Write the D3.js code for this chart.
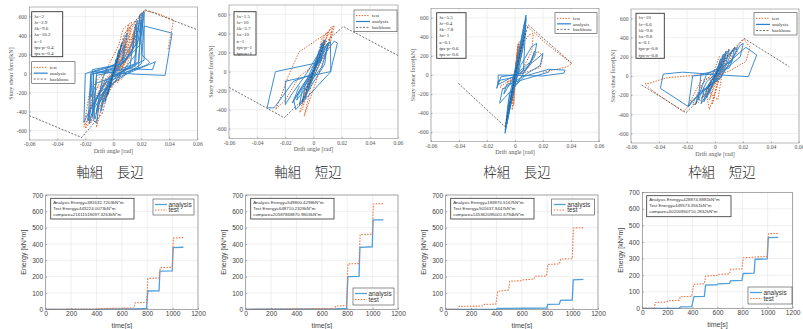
<!DOCTYPE html>
<html><head><meta charset="utf-8">
<script src="https://cdn.jsdelivr.net/npm/d3@7"></script>
<style>body{margin:0;background:#fff}svg{display:block}</style>
</head><body>
<script>
// ---------- tick labels ----------
const driftTicks = [-0.06,-0.04,-0.02,0,0.02,0.04,0.06];
const forceTicks = [-600,-400,-200,0,200,400,600];
const timeTicks = [0,200,400,600,800,1000,1200];
const energyTicks = [0,100,200,300,400,500,600,700];
const titles = ["軸組　長辺","軸組　短辺","枠組　長辺","枠組　短辺"];

// ---------- parameter boxes ----------
const params1 = ["λs=2","λr=2.9","λk=9.6","λa=10.2","κ=1","fps-p=0.4","fps-n=0.4"];
const params2 = ["λs=1.5","λr=10","λk=3.7","λa=10","κ=1","fps-p=1","fps-n=1"];
const params3 = ["λs=5.5","λr=0.4","λk=7.8","λa=1","κ=0.1","fps-p=0.6","fps-n=0.6"];
const params4 = ["λs=10","λr=6.6","λk=9.8","λa=9.8","κ=0.1","fps-p=0.8","fps-n=0.8"];

// ---------- hysteresis (drift [rad], force [kN]) ----------
const test1 = [[0,0],[0.003,150],[-0.003,-140],[0.005,250],[-0.005,-230],[0.008,350],[0.006,200],[-0.002,-50],[-0.008,-320],[-0.006,-200],[0.002,50],[0.01,420],[0.012,480],[0.009,250],[0,-20],[-0.01,-380],[-0.012,-420],[-0.009,-250],[0.003,60],[0.014,500],[0.016,560],[0.013,300],[0.004,-30],[-0.014,-450],[-0.016,-520],[-0.013,-300],[-0.002,-20],[0.01,150],[0.018,580],[0.02,640],[0.016,350],[0.008,100],[-0.008,-100],[-0.018,-540],[-0.02,-580],[-0.016,-350],[-0.006,-60],[0.004,80],[0.012,300],[0.015,450],[0.013,200],[-0.004,-100],[-0.012,-567],[-0.01,-300],[0.006,150],[0.009,400],[0.011,520],[0.008,200],[0.002,-80],[-0.015,-300],[-0.019,-500],[-0.021,-560],[-0.017,-200],[-0.01,-40],[0.005,120],[0.016,480],[0.017,400],[0.006,-60],[-0.012,-150],[-0.018,-450],[-0.015,-250],[0.004,300],[0.007,470],[0.013,540],[0.011,300],[0.003,-100],[0.022,660],[0.03,640],[0.043,565],[0.041,400],[0.039,250]];
const ana1 = [[0,0],[0.002,150],[-0.002,-150],[0.004,250],[-0.004,-230],[0.006,320],[0.004,180],[-0.006,-300],[-0.004,-150],[0.008,380],[0.01,420],[0.007,150],[-0.005,50],[-0.008,-80],[-0.012,-400],[-0.01,-250],[0,-60],[0.012,80],[0.016,520],[0.014,250],[0.004,60],[-0.014,0],[-0.015,-460],[-0.013,-300],[-0.004,-60],[0.018,120],[0.02,600],[0.021,640],[0.019,300],[0.006,100],[-0.016,10],[-0.018,-500],[-0.016,-380],[-0.006,-80],[0.022,140],[0.022,650],[0.02,400],[0.008,120],[-0.02,0],[-0.021,-515],[-0.018,-420],[-0.006,-100],[0.028,110],[0.03,125],[0.028,40],[0.01,50],[-0.012,-20],[-0.014,-350],[-0.01,-200],[0.02,100],[0.022,500],[0.042,425],[0.037,-20],[0.02,-10],[-0.014,20],[-0.015,-300],[-0.013,-480],[-0.011,-350],[0,-20],[0.016,80],[0.017,560],[0.016,300],[0.003,40],[-0.012,0],[-0.014,-500],[-0.012,-520],[-0.01,-300],[0.002,30],[0.015,100],[0.019,620],[0.018,450],[0.005,80],[-0.016,-10],[-0.017,-530],[-0.015,-400],[0,-30],[0.018,60],[0.02,560],[0.016,200],[-0.005,-200],[-0.009,-400],[-0.007,-200],[0.005,200],[0.008,300],[0.006,100],[-0.015,40],[-0.016,-250],[-0.012,-100],[0.024,90],[0.026,120],[0.02,200],[0.021,580]];
const bb1 = [[-0.06,-444],[-0.0226,-674],[-0.008,-420],[0,0],[0.008,420],[0.0227,673],[0.06,460]];

const test2 = [[0,0],[0.002,100],[-0.002,-100],[0.004,200],[-0.004,-180],[0.006,300],[0.004,150],[-0.006,-280],[-0.004,-150],[0.008,380],[0.01,420],[0.007,200],[-0.008,-350],[-0.006,-200],[0.012,460],[0.014,480],[0.01,250],[-0.0066,-467],[-0.004,-300],[0.006,350],[0.0147,484],[0.012,300],[-0.002,-100],[-0.008,-400],[-0.01,-430],[-0.006,-250],[0.004,200],[0.01,380],[0.013,420],[0.008,150],[-0.01,-50],[-0.02,-300],[-0.027,-398],[-0.024,-300],[-0.018,-50],[-0.0102,208],[0.0088,398],[0.012,440]];
const ana2 = [[0,0],[0.002,120],[-0.002,-120],[0.004,220],[-0.004,-200],[0.006,300],[0.004,150],[-0.006,-280],[-0.004,-120],[0.0076,335],[0.005,100],[-0.008,-320],[-0.006,-150],[0.01,300],[0.008,80],[-0.01,-350],[-0.008,-200],[0.012,320],[0.0123,0],[-0.0126,-398],[-0.014,-300],[-0.008,-150],[0.0147,322],[0.017,300],[0.012,0],[-0.02,-100],[-0.02,-346],[-0.016,-250],[-0.005,-20],[0.006,250],[0.008,330],[0.005,100],[-0.027,0],[-0.033,-380],[-0.028,-380],[-0.014,-100],[0,-20],[0.009,280],[0.011,310],[0.006,50],[-0.012,-300],[-0.011,-250],[0.004,120],[0.007,290],[-0.004,-60],[-0.015,-330],[-0.01,-150]];
const bb2 = [[-0.06,-165],[-0.0208,-484],[-0.008,-300],[0,0],[0.008,300],[0.0211,474],[0.06,170]];

const test3 = [[0,0],[0.001,100],[-0.001,-100],[0.0015,200],[-0.0015,-180],[0.002,280],[-0.002,-250],[0.0025,330],[-0.0025,-300],[0.001,50],[0.003,350],[-0.002,-367],[0.001,150],[-0.001,-320],[0.002,320],[-0.002,-280],[0.004,300],[0.008,380],[0.01,420],[0.013,437],[0.012,250],[0.006,80],[-0.004,-80],[-0.008,-150],[-0.011,-122],[-0.004,-60],[0.01,80],[0.016,250],[0.02,200],[0.018,80],[0.006,20],[-0.006,-80],[0,-30],[0.004,200],[0.008,520],[0.02,360],[0.03,240],[0.0405,122],[0.038,90],[0.03,60],[0.02,30]];
const ana3 = [[0,0],[0.002,150],[-0.002,-150],[0.004,300],[-0.004,-320],[0.006,450],[0.004,250],[-0.006,-500],[-0.004,-300],[0.0079,629],[0.006,400],[-0.0071,-612],[-0.005,-350],[0.004,100],[0.012,300],[0.0155,332],[0.014,200],[0.006,20],[-0.01,-20],[-0.013,-140],[-0.012,-60],[0,-20],[0.018,200],[0.02,227],[0.018,100],[0.008,10],[-0.011,-297],[-0.009,-150],[0.005,-20],[0.024,60],[0.0357,52],[0.035,20],[0.02,-10],[-0.012,0],[-0.012,-100],[0.006,40],[0.0079,600],[0.006,300],[-0.007,-580],[-0.005,-300],[0.007,560],[0.005,250],[-0.006,-520],[-0.004,-200],[0.01,100],[0.014,250],[0.012,150],[0,0],[-0.008,-200],[-0.006,-100],[0.024,30],[0.025,60]];
const bb3 = [[-0.0405,-87],[-0.0071,-542],[-0.003,-250],[0,0],[0.004,250],[0.0095,525],[0.0405,123]];

const test4 = [[0,0],[0.002,80],[-0.002,-120],[0.004,150],[-0.004,-250],[0.002,-20],[0.006,200],[-0.002,-300],[0.008,260],[0.004,100],[-0.006,-200],[-0.004,-350],[0.01,280],[0.012,200],[0,-50],[-0.008,-220],[-0.01,-100],[0.006,150],[0.014,300],[0.016,250],[0.004,0],[-0.012,-280],[-0.016,-300],[-0.01,-100],[0.002,-250],[0.006,100],[-0.006,-150],[0.003,200],[0.01,200],[0.02,380],[0.0207,383],[0.025,300],[0.022,150],[0.01,50],[-0.01,-50],[-0.02,-330],[-0.0226,-373],[-0.03,-300],[-0.045,-150],[-0.05,-80],[-0.047,-77],[-0.035,-20],[-0.02,0],[-0.005,20]];
const ana4 = [[0,0],[0.002,100],[-0.002,-100],[0.004,180],[-0.004,-180],[0.006,230],[0.004,100],[-0.006,-230],[-0.004,-100],[0.008,260],[0.006,120],[-0.008,-270],[-0.006,-140],[0.01,280],[0.008,140],[-0.01,-290],[-0.008,-160],[0.014,300],[0.012,150],[-0.006,20],[-0.014,-300],[-0.012,-180],[0.004,-20],[0.018,320],[0.0202,341],[0.018,200],[0.004,30],[-0.016,0],[-0.019,-320],[-0.016,-250],[0.004,-20],[0.012,250],[0.016,300],[0.01,80],[-0.01,20],[-0.012,-250],[-0.006,-60],[0.022,300],[0.0298,220],[0.0238,-7],[0.005,10],[-0.023,40],[-0.037,20],[-0.039,-129],[-0.019,-320],[-0.012,-200],[0.004,0]];
const bb4 = [[-0.0524,-94],[-0.0207,-383],[-0.008,-200],[0,0],[0.008,200],[0.0207,393],[0.0531,97]];

// ---------- energy (time [s], energy [kN*m]) ----------
const eAna1 = [[0,0],[400,0],[500,2],[700,3],[795,5],[805,112],[893,113],[900,234],[997,235],[1004,378],[1085,380]];
const eTest1 = [[0,0],[400,2],[450,5],[695,8],[705,40],[795,42],[805,188],[893,192],[902,255],[997,257],[1006,436],[1085,440]];
const eAna2 = [[0,0],[700,3],[795,5],[805,200],[893,202],[900,380],[997,383],[1004,548],[1085,548]];
const eTest2 = [[0,0],[700,5],[710,20],[795,22],[805,278],[893,280],[902,458],[997,460],[1006,645],[1085,648]];
const eAna3 = [[0,0],[400,0],[410,5],[795,8],[805,30],[895,32],[905,55],[997,57],[1005,180],[1085,183]];
const eTest3 = [[0,0],[95,0],[105,18],[295,20],[305,30],[395,32],[410,110],[495,118],[505,172],[595,175],[605,180],[695,185],[705,202],[795,205],[805,275],[895,278],[905,308],[997,310],[1006,498],[1085,500]];
const eAna4 = [[0,0],[295,0],[305,8],[395,10],[412,70],[495,72],[505,140],[595,142],[605,148],[695,150],[705,165],[795,168],[805,210],[892,212],[900,296],[997,298],[1005,426],[1085,428]];
const eTest4 = [[0,0],[95,0],[105,35],[195,38],[205,45],[295,48],[305,70],[395,72],[410,145],[495,148],[505,195],[595,198],[605,205],[695,208],[705,235],[795,238],[805,305],[895,308],[905,310],[997,312],[1006,450],[1085,452]];
const eText1 = ["Analysis Energy=381632.7203kN*m","Test Energy=443224.0073kN*m","compare=21611519097.3263kN*m"];
const eText2 = ["Analysis Energy=549800.4298kN*m","Test Energy=648710.2328kN*m","compare=20587868870.9803kN*m"];
const eText3 = ["Analysis Energy=183870.5167kN*m","Test Energy=501637.9447kN*m","compare=145362095001.6794kN*m"];
const eText4 = ["Analysis Energy=428874.8881kN*m","Test Energy=449573.3561kN*m","compare=50200950710.2832kN*m"];

// ---------- drawing ----------
const BLUE = "#2a80c8", ORANGE = "#e0622a";
const svg = d3.select("body").append("svg").attr("width",803).attr("height",329);
const minus = s => s.replace("−","-");

function hyst(c, i){
  const g = svg.append("g");
  const x = d3.scaleLinear().domain([-0.06,0.06]).range([c.l,c.r]);
  const y = d3.scaleLinear().domain([-700,700]).range([c.b,c.t]);
  g.append("rect").attr("x",c.l).attr("y",c.t).attr("width",c.r-c.l).attr("height",c.b-c.t).attr("fill","#fff");
  g.selectAll(".gx").data(driftTicks).join("line").attr("x1",d=>x(d)).attr("x2",d=>x(d)).attr("y1",c.t).attr("y2",c.b).attr("stroke","#e4e4e4").attr("stroke-width",0.6);
  g.selectAll(".gy").data(forceTicks).join("line").attr("y1",d=>y(d)).attr("y2",d=>y(d)).attr("x1",c.l).attr("x2",c.r).attr("stroke","#e4e4e4").attr("stroke-width",0.6);
  const fx = d => d===0 ? "0" : minus(d3.format(".2f")(d));
  const ax = g.append("g").attr("transform",`translate(0,${c.b})`).call(d3.axisBottom(x).tickValues(driftTicks).tickFormat(fx).tickSize(-1.5).tickPadding(2.5));
  const ay = g.append("g").attr("transform",`translate(${c.l},0)`).call(d3.axisLeft(y).tickValues(forceTicks).tickFormat(d=>minus(String(d))).tickSize(-1.5).tickPadding(2.5));
  [ax,ay].forEach(a=>{a.select(".domain").remove();a.selectAll("line").attr("stroke","#666").attr("stroke-width",0.5);
    a.selectAll("text").attr("font-family","Liberation Serif").attr("font-size",5.6).attr("fill","#555");});
  const clipId = "clip"+i;
  g.append("clipPath").attr("id",clipId).append("rect").attr("x",c.l).attr("y",c.t).attr("width",c.r-c.l).attr("height",c.b-c.t);
  const line = d3.line().x(d=>x(d[0])).y(d=>y(d[1]));
  const pg = g.append("g").attr("clip-path",`url(#${clipId})`);
  pg.append("path").attr("d",line(c.test)).attr("fill","none").attr("stroke",ORANGE).attr("stroke-width",1).attr("stroke-dasharray","1.4,1.4");
  pg.append("path").attr("d",line(c.ana)).attr("fill","none").attr("stroke",BLUE).attr("stroke-width",0.9);
  pg.append("path").attr("d",line(c.bb)).attr("fill","none").attr("stroke","#333").attr("stroke-width",0.7).attr("stroke-dasharray","2,1.5");
  g.append("rect").attr("x",c.l).attr("y",c.t).attr("width",c.r-c.l).attr("height",c.b-c.t).attr("fill","none").attr("stroke","#8a8a8a").attr("stroke-width",0.6);
  g.append("text").attr("x",(c.l+c.r)/2).attr("y",c.b+12.5).attr("text-anchor","middle").attr("font-family","Liberation Serif").attr("font-size",6).attr("fill","#555").text("Drift angle [rad]");
  g.append("text").attr("transform",`translate(${c.l-16.5},${(c.t+c.b)/2}) rotate(-90)`).attr("text-anchor","middle").attr("font-family","Liberation Serif").attr("font-size",6).attr("fill","#555").text("Story shear force[kN]");
  const pb = c.pbox;
  g.append("rect").attr("x",pb[0]).attr("y",pb[1]).attr("width",pb[2]).attr("height",pb[3]).attr("fill","#fff").attr("stroke","#333").attr("stroke-width",0.9);
  g.selectAll(".pt").data(c.params).join("text").attr("x",pb[0]+2.5).attr("y",(d,k)=>pb[1]+6+k*6.2).attr("font-family","Liberation Serif").attr("font-size",5).attr("fill","#333").text(d=>d);
  const lg = c.leg;
  g.append("rect").attr("x",lg[0]).attr("y",lg[1]).attr("width",lg[2]).attr("height",lg[3]).attr("fill","#fff").attr("stroke","#444").attr("stroke-width",0.6);
  const items = [["test",ORANGE,"1.4,1.4",1],["analysis",BLUE,null,1.2],["backbone","#333","2,1.5",0.7]];
  items.forEach((it,k)=>{
    const yy = lg[1]+3.8+k*(lg[3]-4)/3+1.8;
    g.append("line").attr("x1",lg[0]+2).attr("x2",lg[0]+16).attr("y1",yy).attr("y2",yy).attr("stroke",it[1]).attr("stroke-width",it[3]).attr("stroke-dasharray",it[2]);
    g.append("text").attr("x",lg[0]+18).attr("y",yy+1.7).attr("font-family","Liberation Serif").attr("font-size",5).attr("fill","#333").text(it[0]);
  });
  svg.append("text").attr("x",c.tx).attr("y",177).attr("text-anchor","middle").attr("font-family","Noto Sans CJK JP").attr("font-weight",300).attr("font-size",13.5).attr("fill","#222").text(titles[i]);
}

function energy(c, i){
  const g = svg.append("g");
  const x = d3.scaleLinear().domain([0,1200]).range([c.l,c.r]);
  const y = d3.scaleLinear().domain([0,700]).range([c.b,c.t]);
  g.selectAll(".gx").data(timeTicks).join("line").attr("x1",d=>x(d)).attr("x2",d=>x(d)).attr("y1",c.t).attr("y2",c.b).attr("stroke","#e4e4e4").attr("stroke-width",0.6);
  g.selectAll(".gy").data(energyTicks).join("line").attr("y1",d=>y(d)).attr("y2",d=>y(d)).attr("x1",c.l).attr("x2",c.r).attr("stroke","#e4e4e4").attr("stroke-width",0.6);
  const ax = g.append("g").attr("transform",`translate(0,${c.b})`).call(d3.axisBottom(x).tickValues(timeTicks).tickFormat(d=>String(d)).tickSize(-1.5).tickPadding(2.5));
  const ay = g.append("g").attr("transform",`translate(${c.l},0)`).call(d3.axisLeft(y).tickValues(energyTicks).tickFormat(d=>String(d)).tickSize(-1.5).tickPadding(2.5));
  [ax,ay].forEach(a=>{a.select(".domain").remove();a.selectAll("line").attr("stroke","#555").attr("stroke-width",0.5);
    a.selectAll("text").attr("font-family","Liberation Sans").attr("font-size",6.6).attr("fill","#444");});
  const line = d3.line().x(d=>x(d[0])).y(d=>y(d[1]));
  g.append("path").attr("d",line(c.ana)).attr("fill","none").attr("stroke","#4f9fdb").attr("stroke-width",1.3);
  g.append("path").attr("d",line(c.test)).attr("fill","none").attr("stroke","#e87a48").attr("stroke-width",1.1).attr("stroke-dasharray","1.6,1.3");
  g.append("rect").attr("x",c.l).attr("y",c.t).attr("width",c.r-c.l).attr("height",c.b-c.t).attr("fill","none").attr("stroke","#777").attr("stroke-width",0.6);
  g.append("text").attr("x",(c.l+c.r)/2).attr("y",c.b+18.5).attr("text-anchor","middle").attr("font-family","Liberation Sans").attr("font-size",7).attr("fill","#444").text("time[s]");
  g.append("text").attr("transform",`translate(${c.l-19.5},${(c.t+c.b)/2}) rotate(-90)`).attr("text-anchor","middle").attr("font-family","Liberation Sans").attr("font-size",7).attr("fill","#444").text("Energy [kN*m]");
  const tb = c.tbox;
  g.append("rect").attr("x",tb[0]).attr("y",tb[1]).attr("width",tb[2]).attr("height",tb[3]).attr("fill","#fff").attr("stroke","#333").attr("stroke-width",0.8);
  g.selectAll(".tt").data(c.text).join("text").attr("x",tb[0]+2.5).attr("y",(d,k)=>tb[1]+5.6+k*5.8).attr("font-family","Liberation Sans").attr("font-size",4.4).attr("fill","#333").text(d=>d);
  const lg = c.leg;
  g.append("rect").attr("x",lg[0]).attr("y",lg[1]).attr("width",lg[2]).attr("height",lg[3]).attr("fill","#fff").attr("stroke","#444").attr("stroke-width",0.6);
  [["analysis","#4f9fdb",null,1.3],["test","#e87a48","1.6,1.3",1.1]].forEach((it,k)=>{
    const yy = lg[1]+4.5+k*(lg[3]-5)/2+1;
    g.append("line").attr("x1",lg[0]+2).attr("x2",lg[0]+14).attr("y1",yy).attr("y2",yy).attr("stroke",it[1]).attr("stroke-width",it[3]).attr("stroke-dasharray",it[2]);
    g.append("text").attr("x",lg[0]+15.5).attr("y",yy+2.3).attr("font-family","Liberation Sans").attr("font-size",6.4).attr("fill","#333").text(it[0]);
  });
}

hyst({l:29.3,r:197.3,b:140,t:7,test:test1,ana:ana1,bb:bb1,params:params1,pbox:[31.7,11.7,31,45],leg:[31.7,61.7,43.3,21.6],tx:110},0);
hyst({l:229,r:398,b:138.3,t:5,test:test2,ana:ana2,bb:bb2,params:params2,pbox:[234,11.7,22,43.3],leg:[354,10,43,21.7],tx:308},1);
hyst({l:431,r:599,b:141.7,t:8.3,test:test3,ana:ana3,bb:bb3,params:params3,pbox:[436.7,12.7,29.3,45.6],leg:[555,12.7,42,20.6],tx:517},2);
hyst({l:631,r:799,b:143,t:9,test:test4,ana:ana4,bb:bb4,params:params4,pbox:[636,13.3,28.3,45],leg:[754,12.7,43,22.3],tx:722},3);

energy({l:45.7,r:198,b:309.3,t:195,ana:eAna1,test:eTest1,text:eText1,tbox:[50.7,198.3,83.3,20.7],leg:[153,199,41,16]},0);
energy({l:245.7,r:398,b:309.3,t:195,ana:eAna2,test:eTest2,text:eText2,tbox:[250.7,198.3,83.3,20.7],leg:[353,288,41,17]},1);
energy({l:445.7,r:598,b:309.3,t:195,ana:eAna3,test:eTest3,text:eText3,tbox:[450.7,198.3,83.3,20.7],leg:[551.7,199,42.6,16]},2);
energy({l:642.3,r:792.7,b:308.3,t:192.3,ana:eAna4,test:eTest4,text:eText4,tbox:[646.7,195.7,84.3,21],leg:[748,287,44,17]},3);
</script>
</body></html>
